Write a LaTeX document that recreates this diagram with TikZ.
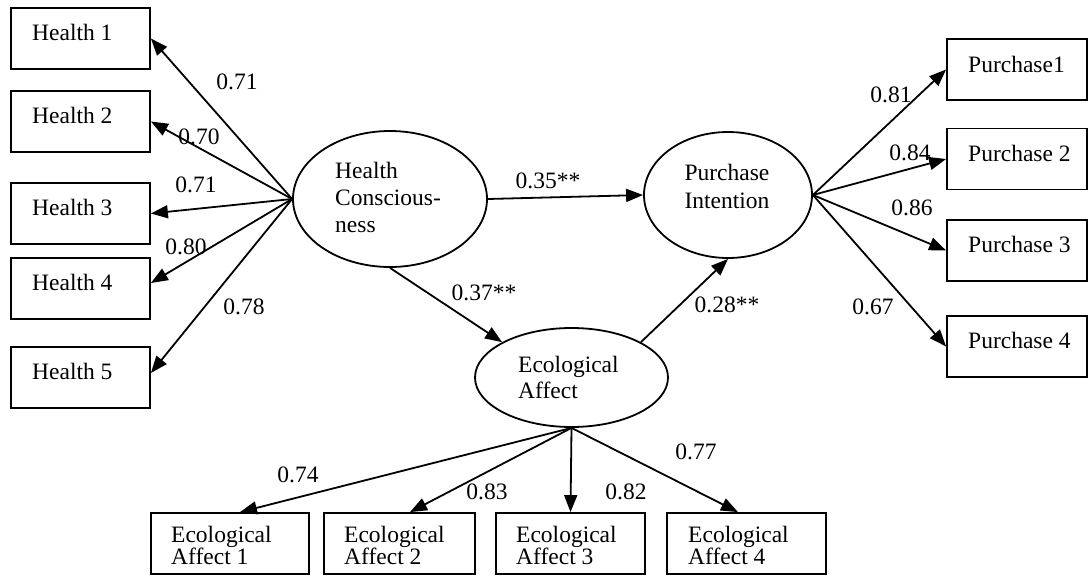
\documentclass[tikz,border=0pt]{standalone}
\usepackage{fontspec}
\setmainfont{Liberation Serif}
\usetikzlibrary{arrows.meta,shapes.geometric,calc}

\tikzset{
  box/.style={draw, line width=1.8pt, inner sep=0pt, minimum height=61pt},
  latent/.style={draw, ellipse, line width=1.8pt, inner sep=0pt},
  txt/.style={inner sep=0pt, font=\fontsize{23.5}{27}\selectfont},
  coef/.style={inner sep=1pt, font=\fontsize{23.5}{27}\selectfont},
  arr/.style={line width=1.8pt, -{Triangle[length=17pt,width=13pt]}},
}

\begin{document}
\begin{tikzpicture}[x=1pt,y=-1pt]
\useasboundingbox (0,0) rectangle (1090,576);

% indicator boxes: health consciousness
\node[box, minimum width=139pt] (h1) at (80.5,38.5) {};
\node[box, minimum width=139pt] (h2) at (80.5,121.5) {};
\node[box, minimum width=139pt] (h3) at (80.5,213.5) {};
\node[box, minimum width=139pt] (h4) at (80.5,288.5) {};
\node[box, minimum width=139pt] (h5) at (80.5,377.5) {};
\node[txt, anchor=base west] (h1t) at (32,40) {Health 1};
\node[txt, anchor=base west] (h2t) at (32,123) {Health 2};
\node[txt, anchor=base west] (h3t) at (32,215) {Health 3};
\node[txt, anchor=base west] (h4t) at (32,290) {Health 4};
\node[txt, anchor=base west] (h5t) at (32,379) {Health 5};

% indicator boxes: purchase intention
\node[box, minimum width=140pt] (p1) at (1017,69.5) {};
\node[box, minimum width=140pt] (p2) at (1017,159) {};
\node[box, minimum width=140pt] (p3) at (1017,250.5) {};
\node[box, minimum width=140pt] (p4) at (1017,346.5) {};
\node[txt, anchor=base west] (p1t) at (968,72) {Purchase1};
\node[txt, anchor=base west] (p2t) at (968,161) {Purchase 2};
\node[txt, anchor=base west] (p3t) at (968,252) {Purchase 3};
\node[txt, anchor=base west] (p4t) at (968,348) {Purchase 4};

% indicator boxes: ecological affect
\node[box, minimum width=158pt] (e1) at (230,543.5) {};
\node[box, minimum width=151pt] (e2) at (399.5,543.5) {};
\node[box, minimum width=149pt] (e3) at (570.5,543.5) {};
\node[box, minimum width=159pt] (e4) at (746.5,543.5) {};
\begin{scope}[txt/.append style={font=\fontsize{23.5}{21}\selectfont}]
\node[txt, anchor=base west] (e1t) at (171,542) {\begin{tabular}[t]{@{}l@{}}Ecological\\Affect 1\end{tabular}};
\node[txt, anchor=base west] (e2t) at (344,542) {\begin{tabular}[t]{@{}l@{}}Ecological\\Affect 2\end{tabular}};
\node[txt, anchor=base west] (e3t) at (516,542) {\begin{tabular}[t]{@{}l@{}}Ecological\\Affect 3\end{tabular}};
\node[txt, anchor=base west] (e4t) at (688,542) {\begin{tabular}[t]{@{}l@{}}Ecological\\Affect 4\end{tabular}};
\end{scope}

% latent constructs
\node[latent, minimum width=194pt, minimum height=136pt] (hc) at (390,199) {};
\node[latent, minimum width=168pt, minimum height=126pt] (pi) at (728,195) {};
\node[latent, minimum width=193pt, minimum height=99pt] (ea) at (571.5,377.5) {};
\node[txt, anchor=base west] (hct) at (335,178) {\begin{tabular}[t]{@{}l@{}}Health\\Conscious-\\ness\end{tabular}};
\node[txt, anchor=base, font=\fontsize{23.5}{28}\selectfont] (pit) at (727,180) {\begin{tabular}[t]{@{}c@{}}Purchase\\Intention\end{tabular}};
\node[txt, anchor=base west, font=\fontsize{23.5}{26}\selectfont] (eat) at (518,372) {\begin{tabular}[t]{@{}l@{}}Ecological\\Affect\end{tabular}};

% loadings: health consciousness
\draw[arr] (hc.west) -- (h1.east);
\draw[arr] (hc.west) -- (h2.east);
\draw[arr] (hc.west) -- (h3.east);
\draw[arr] (hc.west) -- ([yshift=5.5pt]h4.east);
\draw[arr] (hc.west) -- ([yshift=4.5pt]h5.east);

% loadings: purchase intention
\draw[arr] (pi.east) -- (p1.west);
\draw[arr] (pi.east) -- (p2.west);
\draw[arr] (pi.east) -- (p3.west);
\draw[arr] (pi.east) -- (p4.west);

% loadings: ecological affect
\draw[arr] (ea.south) -- ([xshift=10pt]e1.north);
\draw[arr] (ea.south) -- ([xshift=10.5pt]e2.north);
\draw[arr] (ea.south) -- (e3.north);
\draw[arr] (ea.south) -- ([xshift=-8.5pt]e4.north);

% structural paths
\draw[arr] (hc.east) -- (pi.west);
\draw[arr] (hc.south) -- (ea.153);
\draw[arr] (ea.27) -- (pi.south);

% coefficients
\node[coef] (c1) at (237,82) {0.71};
\node[coef] (c2) at (199,137) {0.70};
\node[coef] (c3) at (196,185) {0.71};
\node[coef] (c4) at (186,247) {0.80};
\node[coef] (c5) at (244,307) {0.78};
\node[coef] (c6) at (891,95) {0.81};
\node[coef] (c7) at (910,153) {0.84};
\node[coef] (c8) at (912,208) {0.86};
\node[coef] (c9) at (873,307) {0.67};
\node[coef] (c10) at (298,475) {0.74};
\node[coef] (c11) at (487,492) {0.83};
\node[coef] (c12) at (626,492) {0.82};
\node[coef] (c13) at (696,452) {0.77};
\node[coef] (s1) at (548,181) {0.35**};
\node[coef] (s2) at (484,293) {0.37**};
\node[coef] (s3) at (727,305) {0.28**};
\end{tikzpicture}
\end{document}
